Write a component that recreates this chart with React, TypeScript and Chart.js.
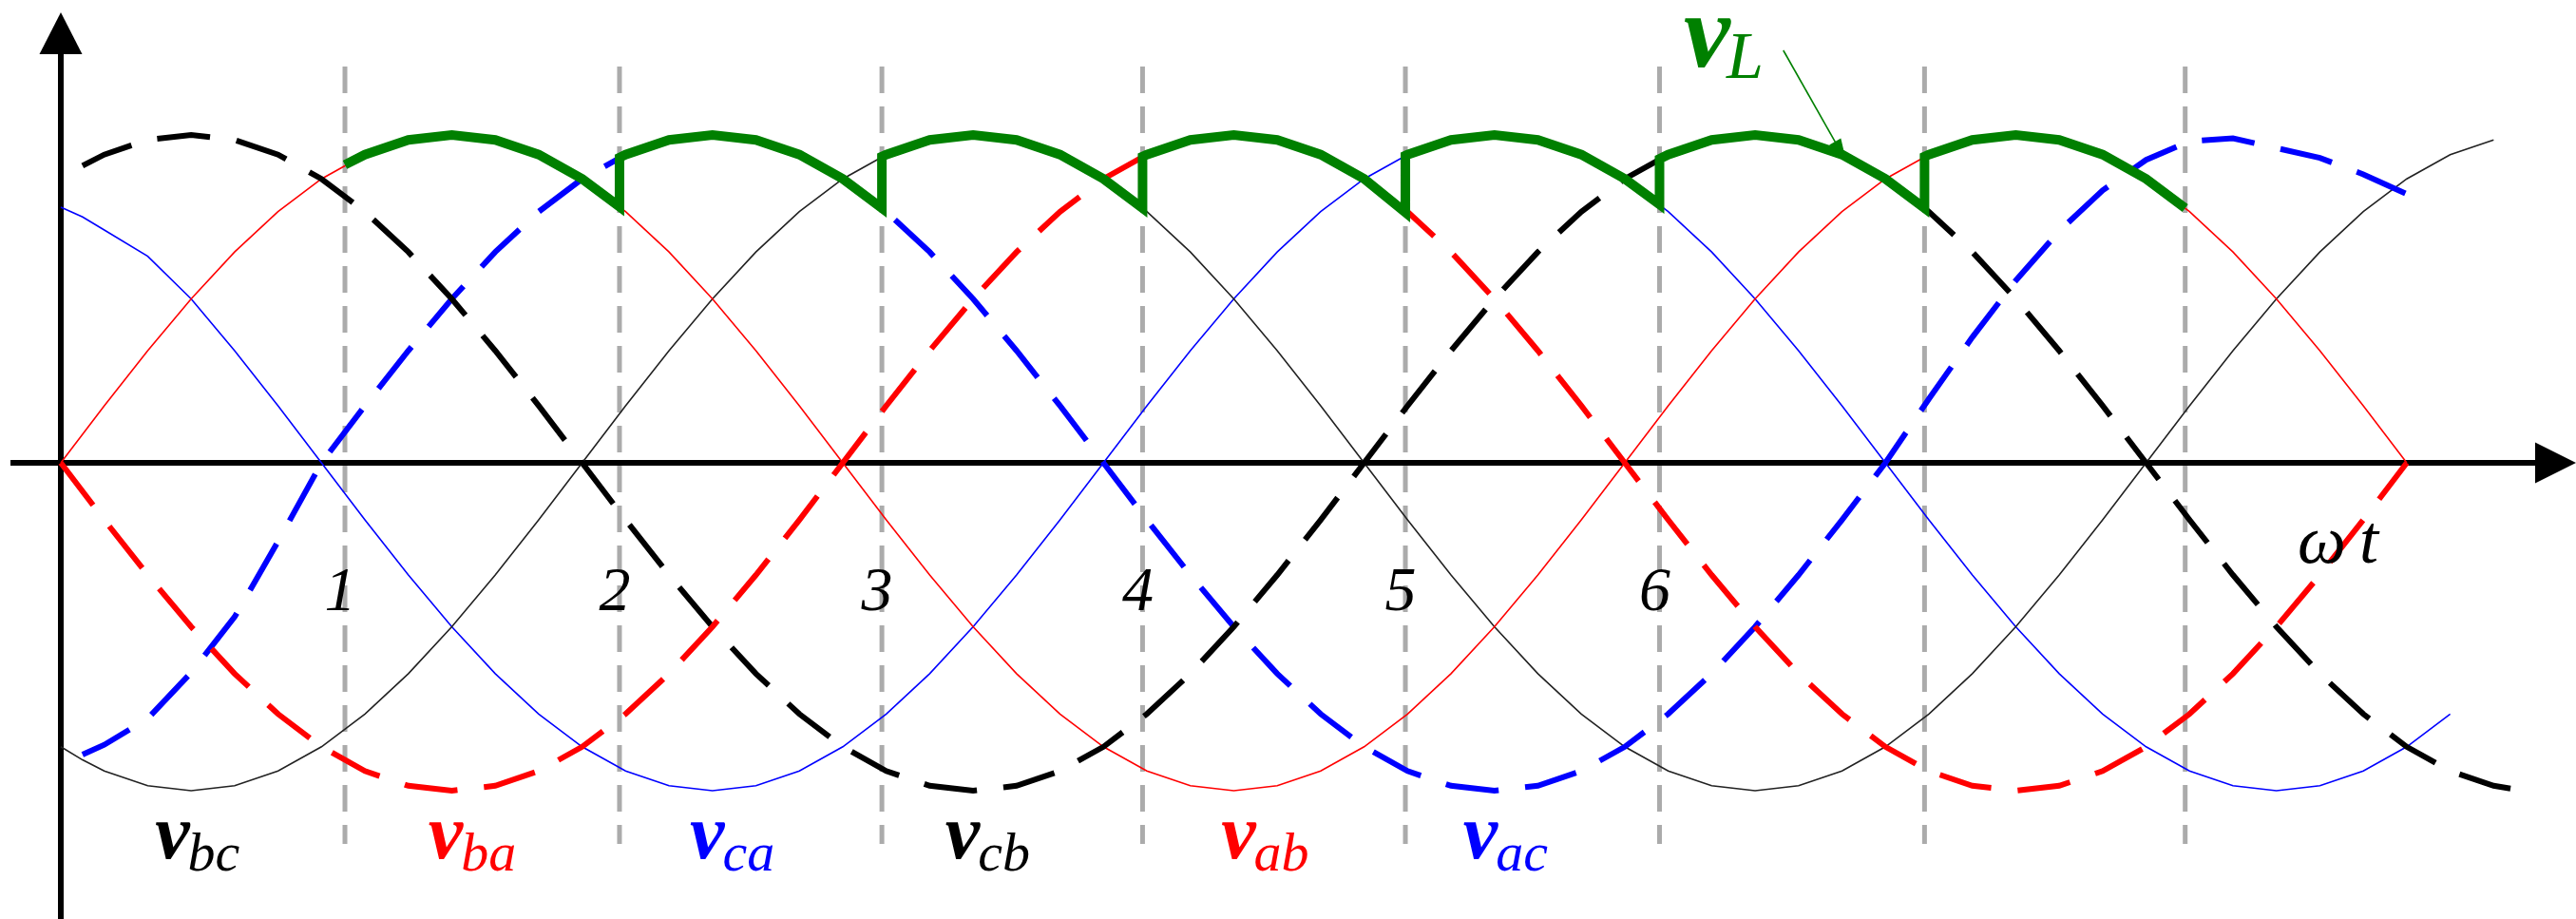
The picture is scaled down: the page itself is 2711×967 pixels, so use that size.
import React, { useEffect, useRef } from 'react';
import { Chart, registerables } from 'chart.js';

Chart.register(...registerables);

// Phase angle ωt in degrees, shared by the six line-to-line voltages.
const phaseDeg = [
  0, 5, 10, 20, 30, 40, 50, 60, 70, 80, 90, 100, 110, 120, 130, 140, 150, 160, 170, 180,
  190, 200, 210, 220, 230, 240, 250, 260, 270, 280, 290, 300, 310, 320, 330, 340, 350, 360,
  370, 380, 390, 400, 410, 420, 430, 440, 450, 460, 470, 480, 490, 500, 510, 520, 530, 540,
  550, 560, 565,
];

// Line voltages in per-unit of the peak (null where a curve is not drawn).
const vabThin = [
  0, 0.087, 0.174, 0.342, 0.5, 0.643, 0.766, 0.866, 0.94, 0.985, 1, 0.985, 0.94, 0.866, 0.766, 0.643, 0.5, 0.342, 0.174, 0,
  -0.174, -0.342, -0.5, -0.643, -0.766, -0.866, -0.94, -0.985, -1, -0.985, -0.94, -0.866, -0.766, -0.643, -0.5, -0.342, -0.174, 0,
  0.174, 0.342, 0.5, 0.643, 0.766, 0.866, 0.94, 0.985, 1, 0.985, 0.94, 0.866, 0.766, 0.643, 0.5, 0.342, 0.174, 0,
  null, null, null,
];
const vbaDashed = [
  0, -0.087, -0.174, -0.342, -0.5, -0.643, -0.766, -0.866, -0.94, -0.985, -1, -0.985, -0.94, -0.866, -0.766, -0.643, -0.5, -0.342, -0.174, 0,
  0.174, 0.342, 0.5, 0.643, 0.766, 0.866, 0.94, 0.985, 1, 0.985, 0.94, 0.866, 0.766, 0.643, 0.5, 0.342, 0.174, 0,
  -0.174, -0.342, -0.5, -0.643, -0.766, -0.866, -0.94, -0.985, -1, -0.985, -0.94, -0.866, -0.766, -0.643, -0.5, -0.342, -0.174, 0,
  null, null, null,
];
const vbcThin = [
  -0.866, -0.906, -0.94, -0.985, -1, -0.985, -0.94, -0.866, -0.766, -0.643, -0.5, -0.342, -0.174, 0,
  0.174, 0.342, 0.5, 0.643, 0.766, 0.866, 0.94, 0.985, 1, 0.985, 0.94, 0.866, 0.766, 0.643, 0.5, 0.342, 0.174, 0,
  -0.174, -0.342, -0.5, -0.643, -0.766, -0.866, -0.94, -0.985, -1, -0.985, -0.94, -0.866, -0.766, -0.643, -0.5, -0.342, -0.174, 0,
  0.174, 0.342, 0.5, 0.643, 0.766, 0.866, 0.94, 0.985,
  null,
];
const vcbDashed = [
  null, 0.906, 0.94, 0.985, 1, 0.985, 0.94, 0.866, 0.766, 0.643, 0.5, 0.342, 0.174, 0,
  -0.174, -0.342, -0.5, -0.643, -0.766, -0.866, -0.94, -0.985, -1, -0.985, -0.94, -0.866, -0.766, -0.643, -0.5, -0.342, -0.174, 0,
  0.174, 0.342, 0.5, 0.643, 0.766, 0.866, 0.94, 0.985, 1, 0.985, 0.94, 0.866, 0.766, 0.643, 0.5, 0.342, 0.174, 0,
  -0.174, -0.342, -0.5, -0.643, -0.766, -0.866, -0.94, -0.985,
  -0.996,
];
const vcaThin = [
  0.78, 0.75, 0.71, 0.63, 0.5, 0.342, 0.174, 0,
  -0.174, -0.342, -0.5, -0.643, -0.766, -0.866, -0.94, -0.985, -1, -0.985, -0.94, -0.866, -0.766, -0.643, -0.5, -0.342, -0.174, 0,
  0.174, 0.342, 0.5, 0.643, 0.766, 0.866, 0.94, 0.985, 1, 0.985, 0.94, 0.866, 0.766, 0.643, 0.5, 0.342, 0.174, 0,
  -0.174, -0.342, -0.5, -0.643, -0.766, -0.866, -0.94, -0.985, -1, -0.985, -0.94, -0.866, -0.766,
  null, null,
];
const vacDashed = [
  null, -0.89, -0.86, -0.78, -0.64, -0.47, -0.24, 0,
  0.174, 0.342, 0.5, 0.643, 0.766, 0.866, 0.94, 0.985, 1, 0.985, 0.94, 0.866, 0.766, 0.643, 0.5, 0.342, 0.174, 0,
  -0.174, -0.342, -0.5, -0.643, -0.766, -0.866, -0.94, -0.985, -1, -0.985, -0.94, -0.866, -0.766, -0.643, -0.5, -0.342, -0.174, 0,
  0.195, 0.383, 0.556, 0.707, 0.831, 0.924, 0.981, 0.99, 0.96, 0.93, 0.88, 0.82,
  null, null, null,
];

// Load voltage vL: follows the conducting pair, jumping at each firing instant.
const vlDeg = [
  65.4, 70, 80, 90, 100, 110, 120, 128.6,
  128.6, 130, 140, 150, 160, 170, 180, 189,
  189, 190, 200, 210, 220, 230, 240, 249,
  249, 250, 260, 270, 280, 290, 300, 309.5,
  309.5, 310, 320, 330, 340, 350, 360, 368,
  368, 370, 380, 390, 400, 410, 420, 429,
  429, 430, 440, 450, 460, 470, 480, 489,
];
const vlValues = [
  0.909, 0.94, 0.985, 1, 0.985, 0.94, 0.866, 0.781,
  0.931, 0.94, 0.985, 1, 0.985, 0.94, 0.866, 0.777,
  0.934, 0.94, 0.985, 1, 0.985, 0.94, 0.866, 0.777,
  0.934, 0.94, 0.985, 1, 0.985, 0.94, 0.866, 0.764,
  0.937, 0.94, 0.985, 1, 0.985, 0.94, 0.866, 0.788,
  0.927, 0.94, 0.985, 1, 0.985, 0.94, 0.866, 0.777,
  0.934, 0.94, 0.985, 1, 0.985, 0.94, 0.866, 0.777,
];

// Firing instants (degrees) and their numbering.
const firingDeg = [65.4, 128.6, 189, 249, 309.5, 368, 429, 489];
const firingLabels = ['1', '2', '3', '4', '5', '6'];

// Names of the voltages written under their negative half-waves.
const curveSubscripts = ['bc', 'ba', 'ca', 'cb', 'ab', 'ac'];
const curveColors = ['#000000', '#ff0000', '#0000ff', '#000000', '#ff0000', '#0000ff'];

// Layout anchors in data units (degrees, per-unit voltage).
const LABEL_DEG = [21.7, 84.6, 144.8, 203.6, 267.1, 322.8];
const LABEL_V_BASE = -1.206;
const LABEL_SUB_BASE = -1.243;
const DIGIT_BASE = -0.45;
const GATE_TOP = 1.209;
const GATE_BOTTOM = -1.162;
const X_MIN = -14;
const X_MAX = 578.96;
const Y_MIN = -1.3913;
const Y_MAX = 1.4116;

const SERIF = '"Liberation Serif", "Times New Roman", serif';
const GREEN = '#008000';

const decorPlugin = {
  id: 'rectifierDecor',
  beforeDatasetsDraw(chart: any) {
    const { ctx, chartArea } = chart;
    const xs = chart.scales.x;
    const ys = chart.scales.y;
    const x0 = xs.getPixelForValue(0);
    const y0 = ys.getPixelForValue(0);
    ctx.save();
    // firing instants
    ctx.strokeStyle = '#ababab';
    ctx.lineWidth = 5;
    ctx.setLineDash([28, 14]);
    for (const a of firingDeg) {
      const px = xs.getPixelForValue(a);
      ctx.beginPath();
      ctx.moveTo(px, ys.getPixelForValue(GATE_TOP));
      ctx.lineTo(px, ys.getPixelForValue(GATE_BOTTOM));
      ctx.stroke();
    }
    ctx.setLineDash([]);
    // ωt axis
    ctx.strokeStyle = '#000';
    ctx.fillStyle = '#000';
    ctx.lineWidth = 6;
    ctx.beginPath();
    ctx.moveTo(chartArea.left + 11, y0);
    ctx.lineTo(chartArea.right - 30, y0);
    ctx.stroke();
    ctx.beginPath();
    ctx.moveTo(chartArea.right, y0);
    ctx.lineTo(chartArea.right - 43, y0 - 21.5);
    ctx.lineTo(chartArea.right - 43, y0 + 21.5);
    ctx.closePath();
    ctx.fill();
    // voltage axis
    ctx.beginPath();
    ctx.moveTo(x0, chartArea.bottom);
    ctx.lineTo(x0, chartArea.top + 45);
    ctx.stroke();
    ctx.beginPath();
    ctx.moveTo(x0, chartArea.top + 13);
    ctx.lineTo(x0 - 22.5, chartArea.top + 57);
    ctx.lineTo(x0 + 22.5, chartArea.top + 57);
    ctx.closePath();
    ctx.fill();
    ctx.restore();
  },
  afterDatasetsDraw(chart: any) {
    const { ctx } = chart;
    const xs = chart.scales.x;
    const ys = chart.scales.y;
    ctx.save();
    ctx.textBaseline = 'alphabetic';

    // numbered firing instants
    ctx.fillStyle = '#000';
    ctx.font = `italic 66px ${SERIF}`;
    ctx.textAlign = 'center';
    firingLabels.forEach((t, i) => {
      ctx.fillText(t, xs.getPixelForValue(firingDeg[i]) - 5, ys.getPixelForValue(DIGIT_BASE));
    });

    // voltage names
    ctx.textAlign = 'left';
    curveSubscripts.forEach((sub, i) => {
      const px = xs.getPixelForValue(LABEL_DEG[i]);
      ctx.fillStyle = curveColors[i];
      ctx.font = `italic bold 82px ${SERIF}`;
      ctx.fillText('v', px, ys.getPixelForValue(LABEL_V_BASE));
      const w = ctx.measureText('v').width;
      ctx.font = `italic 58px ${SERIF}`;
      ctx.fillText(sub, px + w - 2, ys.getPixelForValue(LABEL_SUB_BASE));
    });

    // ωt
    ctx.fillStyle = '#000';
    ctx.font = `italic 72px ${SERIF}`;
    ctx.fillText('\u03c9', xs.getPixelForValue(514.9), ys.getPixelForValue(-0.304));
    ctx.fillText('t', xs.getPixelForValue(529.1), ys.getPixelForValue(-0.304));

    // vL with pointer
    ctx.fillStyle = GREEN;
    ctx.font = `italic bold 110px ${SERIF}`;
    const vx = xs.getPixelForValue(373.6);
    ctx.fillText('v', vx, ys.getPixelForValue(1.209));
    const vw = ctx.measureText('v').width;
    ctx.font = `italic 70px ${SERIF}`;
    ctx.fillText('L', vx + vw - 4, ys.getPixelForValue(1.174));

    const ax0 = xs.getPixelForValue(396.5);
    const ay0 = ys.getPixelForValue(1.258);
    const ax1 = xs.getPixelForValue(411);
    const ay1 = ys.getPixelForValue(0.919);
    const ang = Math.atan2(ay1 - ay0, ax1 - ax0);
    ctx.strokeStyle = GREEN;
    ctx.lineWidth = 1.6;
    ctx.beginPath();
    ctx.moveTo(ax0, ay0);
    ctx.lineTo(ax1 - 20 * Math.cos(ang), ay1 - 20 * Math.sin(ang));
    ctx.stroke();
    ctx.beginPath();
    ctx.moveTo(ax1, ay1);
    ctx.lineTo(ax1 - 24 * Math.cos(ang) + 7 * Math.sin(ang), ay1 - 24 * Math.sin(ang) - 7 * Math.cos(ang));
    ctx.lineTo(ax1 - 24 * Math.cos(ang) - 7 * Math.sin(ang), ay1 - 24 * Math.sin(ang) + 7 * Math.cos(ang));
    ctx.closePath();
    ctx.fill();
    ctx.restore();
  },
};

function series(values: (number | null)[]) {
  return phaseDeg.map((d, i) => ({ x: d, y: values[i] }));
}

function thin(label: string, values: (number | null)[], color: string) {
  return {
    label,
    data: series(values),
    borderColor: color,
    borderWidth: 1.6,
    pointRadius: 0,
    tension: 0,
    fill: false,
    spanGaps: false,
  };
}

function dashed(label: string, values: (number | null)[], color: string) {
  return {
    label,
    data: series(values),
    borderColor: color,
    borderWidth: 6,
    borderDash: [56, 28],
    borderCapStyle: 'butt',
    pointRadius: 0,
    tension: 0,
    fill: false,
    spanGaps: false,
  };
}

export default function App() {
  const canvasRef = useRef<HTMLCanvasElement | null>(null);

  useEffect(() => {
    document.body.style.margin = '0';
    const canvas = canvasRef.current;
    if (!canvas) return;
    const chart = new Chart(canvas, {
      type: 'line',
      data: {
        datasets: [
          {
            label: 'vL',
            data: vlDeg.map((d, i) => ({ x: d, y: vlValues[i] })),
            borderColor: GREEN,
            borderWidth: 10,
            borderJoinStyle: 'miter',
            borderCapStyle: 'butt',
            pointRadius: 0,
            tension: 0,
            fill: false,
          },
          dashed('vba', vbaDashed, '#ff0000'),
          dashed('vcb', vcbDashed, '#000000'),
          dashed('vac', vacDashed, '#0000ff'),
          thin('vab', vabThin, '#ff0000'),
          thin('vbc', vbcThin, '#222222'),
          thin('vca', vcaThin, '#0000ff'),
        ] as any,
      },
      options: {
        responsive: false,
        devicePixelRatio: 1,
        animation: false,
        layout: { padding: 0 },
        plugins: {
          legend: { display: false },
          tooltip: { enabled: false },
        },
        scales: {
          x: { type: 'linear', min: X_MIN, max: X_MAX, display: false },
          y: { type: 'linear', min: Y_MIN, max: Y_MAX, display: false },
        },
      },
      plugins: [decorPlugin],
    });
    return () => chart.destroy();
  }, []);

  return (
    <div style={{ width: 2711, height: 967, background: '#fff' }}>
      <canvas ref={canvasRef} width={2711} height={967} style={{ display: 'block' }} />
    </div>
  );
}
